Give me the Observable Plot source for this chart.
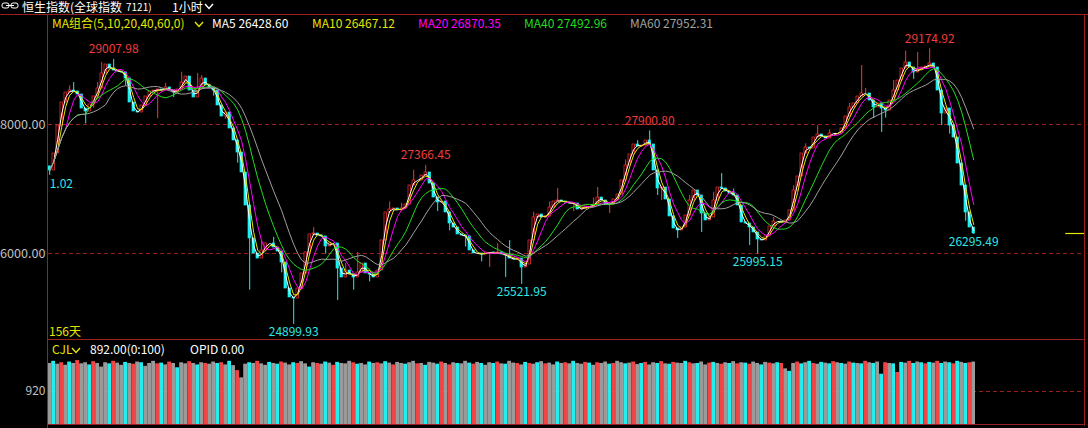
<!DOCTYPE html>
<html><head><meta charset="utf-8">
<script src="https://cdn.jsdelivr.net/npm/d3@7"></script>
<script src="https://cdn.jsdelivr.net/npm/@observablehq/plot@0.6"></script>
<style>
html,body{margin:0;padding:0;background:#000;width:1088px;height:428px;overflow:hidden;font-family:"Noto Sans CJK SC","Noto Sans",sans-serif;}
#wrap{position:relative;width:1088px;height:428px;background:#000;}
.t{position:absolute;white-space:nowrap;font-size:12px;line-height:14px;}
.ln{position:absolute;background:#9a1f1f;}
#price{position:absolute;left:0;top:15px;}
#vol{position:absolute;left:0;top:340px;}
svg.chev{position:absolute;}
</style></head><body>
<div id="wrap">
  <div id="price"></div>
  <div id="vol"></div>
</div>
<script>
// ---------- DATA ----------
const titleMain = "恒生指数(全球指数";
const titleCode = "7121)";
const titlePeriod = "1小时";
const maGroupLabel = "MA组合(5,10,20,40,60,0)";
const maNames = ["MA5", "MA10", "MA20", "MA40", "MA60"];
const maLegendValues = [26428.60, 26467.12, 26870.35, 27492.96, 27952.31];
const maColors = ["#ffffff", "#e6e600", "#ff00ff", "#22dd22", "#a0a0a0"];
const maK = [2, 3, 5, 10, 15]; // window length in plotted bars
const daysLabel = "156天";
const volHeader = ["CJL", "892.00(0:100)", "OPID 0.00"];

const gridPrices = [26000, 28000];
const volTicks = [920];

const firstOpen = 27350;
const closes = [
27287,27550,27984,28341,28496,28527,28512,28465,28248,28202,
28310,28434,28558,28791,28930,28868,28837,28822,28806,28713,
28341,28202,28186,28295,28434,28512,28527,28543,28527,28574,
28527,28496,28543,28651,28744,28527,28419,28558,28713,28605,
28558,28527,28295,28124,28186,27938,27752,27566,27256,26744,
26233,26000,25922,26047,26155,26155,26093,26031,25860,25457,
25318,25302,25457,25690,26016,26295,26310,26279,26264,26109,
26155,26155,25767,25628,25736,25674,25628,25705,25845,25690,
25674,25628,25736,26202,26636,26682,26698,26667,26698,26760,
27054,27132,27132,27209,27256,27085,26868,26791,26806,26636,
26465,26403,26295,26279,26264,26047,26000,26000,25984,26016,
26016,26000,26016,25984,25969,25922,25907,25922,25783,25829,
26202,26558,26605,26558,26574,26713,26806,26822,26806,26791,
26775,26775,26682,26698,26729,26729,26760,26868,26822,26760,
26760,26837,26915,27132,27364,27535,27690,27659,27674,27752,
27690,27287,27008,27023,26837,26574,26388,26357,26403,26589,
26822,26977,26899,26620,26512,26558,26822,27023,27008,26961,
26930,26899,26744,26481,26465,26403,26326,26217,26202,26264,
26419,26496,26496,26481,26512,26667,26977,27194,27550,27643,
27628,27798,27845,27814,27783,27860,27860,27860,27938,28124,
28264,28326,28434,28481,28481,28372,28264,28326,28248,28217,
28372,28527,28682,28868,28961,28884,28806,28853,28884,28899,
28946,28884,28527,28171,28248,27984,27798,27395,27054,26636,
26403,26310
];
// [bar index, high, low] read from visible wicks
const wicks = [
[0,null,27211.02],[2,null,27700],[5,28600,null],[6,28650,null],[9,null,28010],
[11,null,28250],[12,28650,null],[13,28960,null],[16,29007.98,null],[19,null,28600],
[24,null,28300],[27,null,28090],[29,28640,null],[31,null,28420],[33,28810,null],
[37,28790,null],[38,28760,null],[41,null,28440],[44,null,28080],[47,null,27400],
[50,null,25430],[53,26200,null],[56,26250,null],[58,null,25700],[61,null,24899.93],
[66,26400,null],[69,null,25990],[72,null,25270],[74,25850,null],[76,null,25430],
[77,26016,null],[80,null,25560],[85,26800,null],[88,26780,null],[91,27290,null],
[94,27366.45,null],[97,null,26650],[100,null,26350],[104,null,26100],[108,null,25870],
[110,null,25783],[112,26150,null],[114,null,25628],[115,26200,null],[118,null,25521.95],
[121,26640,null],[125,26800,null],[127,27008,null],[131,null,26650],[136,26860,null],
[137,27023,null],[140,null,26620],[144,27450,null],[147,27750,null],[150,27900.80,null],
[152,null,26900],[153,null,26822],[157,null,26233],[160,26900,null],[163,null,26326],
[166,26950,null],[168,27240,null],[171,27000,null],[175,null,26124],[177,null,25995.15],
[181,26560,null],[186,27050,null],[189,27700,null],[192,27984,null],[195,27920,null],
[200,28330,null],[203,28915,null],[204,28560,null],[206,null,28093],[208,null,27876],
[209,null,28100],[211,28682,null],[214,29140,null],[216,null,28700],[217,29116,null],
[220,29174.92,null],[223,null,27984],[225,null,27850],[227,27500,null],[229,null,26500],
[231,null,26295.49]
];
const hiLabels = [[16,29007.98],[94,27366.45],[150,27900.80],[220,29174.92]];
const loLabels = [[61,24899.93],[118,25521.95],[177,25995.15],[231,26295.49]];

const volumes = [
1700,1760,1680,1720,1650,1740,1700,1780,1690,1720,
1660,1750,1700,1600,1720,1690,1760,1710,1650,1730,
1700,1680,1740,1720,1620,1700,1760,1690,1710,1660,
1740,1700,1580,1720,1690,1750,1700,1660,1720,1700,
1680,1740,1700,1720,1660,1760,1640,1500,1300,1680,
1720,1700,1760,1690,1650,1730,1700,1680,1740,1710,
1660,1720,1700,1750,1690,1600,1720,1700,1680,1740,
1710,1650,1730,1700,1690,1760,1720,1680,1700,1660,
1740,1700,1720,1690,1750,1710,1660,1730,1700,1680,
1720,1760,1690,1700,1650,1730,1710,1680,1740,1700,
1660,1720,1700,1690,1760,1710,1680,1730,1700,1650,
1720,1700,1740,1690,1680,1760,1710,1700,1660,1730,
1700,1680,1720,1750,1690,1710,1660,1740,1700,1720,
1690,1760,1700,1680,1730,1710,1650,1720,1700,1740,
1680,1700,1760,1720,1690,1710,1740,1670,1700,1730,
1660,1720,1700,1750,1690,1680,1730,1710,1700,1760,
1720,1690,1700,1740,1660,1710,1730,1700,1680,1720,
1700,1750,1690,1720,1710,1680,1740,1700,1660,1730,
1710,1690,1720,1700,1550,1480,1700,1740,1690,1720,
1760,1700,1680,1730,1710,1690,1750,1720,1700,1680,
1740,1710,1700,1690,1760,1720,1700,1740,1400,1720,
1700,1690,1450,1730,1710,1760,1700,1740,1720,1690,
1730,1710,1760,1700,1740,1720,1690,1760,1730,1700,
1720,1740
];
const volColorCodes =
"gcgrgcgrgg"+"crgggcrggc"+"grgcgggrcg"+"rgcggrgcgr"+"ggcrgcgrgg"+
"cgrggcgcrg"+"gcrggcgrgc"+"grcgggrcgg"+"cgrgcgrggc"+"ggrgcggcrg"+
"rgcggcrgcg"+"gcrgcggrgc"+"rgcgrggcgr"+"gcggrcgrgg"+"crggcgrgcr"+
"ggcrgcrggc"+"rgcggrcgrg"+"cgrgcrggcg"+"rgcrgcgrcg"+"crgcgcrgcg"+
"rcgcrgcgcr"+"gcrcgrcgcr"+"cgrcgcrcgc"+"rg";

// ---------- STYLE ----------
const RED = "#ff3434", CYAN = "#1ef0f0", GRID = "#9a1f1f";
const LBL_RED = "#f03c3c", LBL_CYAN = "#2ee6e6", AXIS = "#c0c0c0", YEL = "#e6e600";
const volPalette = {r: "#f24444", c: "#22eeee", g: "#9a9a9a"};
const FONT = "'Noto Sans CJK SC','Noto Sans',sans-serif";
const xDomain = [-0.3, 258.7];

// ---------- BUILD ----------
const bars = closes.map((c, i) => {
  const o = i === 0 ? firstOpen : closes[i - 1];
  return {i, open: o, close: c, high: Math.max(o, c), low: Math.min(o, c), up: c >= o};
});
for (const [i, h, l] of wicks) {
  if (h != null) bars[i].high = Math.max(bars[i].high, h);
  if (l != null) bars[i].low = Math.min(bars[i].low, l);
}
const fmt = d3.format(".2f");
const hiData = hiLabels.map(([i, v]) => ({i, v}));
const loData = loLabels.map(([i, v]) => ({i, v}));
const lastClose = closes[closes.length - 1];

const maMarks = maK.map((k, j) =>
  Plot.lineY(bars, Plot.windowY({k, anchor: "end", reduce: "mean"},
    {x: "i", y: "close", stroke: maColors[j], strokeWidth: 1}))
);

const price = Plot.plot({
  width: 1088, height: 325,
  marginLeft: 48, marginRight: 4, marginTop: 0, marginBottom: 0,
  x: {domain: xDomain, axis: null},
  y: {domain: [24651, 29690], axis: null},
  color: {type: "identity"},
  style: {background: "transparent", fontFamily: FONT, fontSize: "12px", overflow: "visible"},
  marks: [
    Plot.ruleY(gridPrices, {stroke: GRID, strokeDasharray: "4,3"}),
    Plot.text(gridPrices, {y: d => d, frameAnchor: "left", textAnchor: "end", dx: -3,
      text: d => fmt(d), fill: AXIS, fontSize: 12.6}),
    Plot.ruleX(bars, {x: "i", y1: "low", y2: "high", stroke: d => d.up ? RED : CYAN, strokeWidth: 1}),
    Plot.rect(bars, {x1: d => d.i - 0.3, x2: d => d.i + 0.3, y1: "open", y2: "close",
      fill: d => d.up ? "#000000" : CYAN, stroke: d => d.up ? RED : CYAN, strokeWidth: 0.7}),
    ...maMarks,
    Plot.ruleY([lastClose], {x1: 254, x2: 258.7, stroke: YEL, strokeWidth: 1.2}),
    Plot.text(hiData, {x: "i", y: "v", text: d => fmt(d.v), dy: -10, fill: LBL_RED, fontSize: 12}),
    Plot.text(loData, {x: "i", y: "v", text: d => fmt(d.v), dy: 8, fill: LBL_CYAN, fontSize: 12}),
    Plot.text([bars[0]], {x: "i", y: "low", text: d => fmt(d.low).slice(-4), textAnchor: "start",
      dy: 9, fill: LBL_CYAN, fontSize: 12})
  ]
});
document.getElementById("price").appendChild(price);

const volData = volumes.map((v, i) => ({i, v, c: volPalette[volColorCodes[i]]}));
const vol = Plot.plot({
  width: 1088, height: 88,
  marginLeft: 48, marginRight: 4, marginTop: 0, marginBottom: 4,
  x: {domain: xDomain, axis: null},
  y: {domain: [0, 2340], axis: null},
  color: {type: "identity"},
  style: {background: "transparent", fontFamily: FONT, fontSize: "12px", overflow: "visible"},
  marks: [
    Plot.ruleY(volTicks, {stroke: GRID, strokeDasharray: "4,3"}),
    Plot.rect(volData, {x1: d => d.i - 0.5, x2: d => d.i + 0.45, y1: 0, y2: "v", fill: "c"}),
    Plot.text(volTicks, {y: d => d, frameAnchor: "left", textAnchor: "end", dx: -3,
      text: d => String(d), fill: AXIS, fontSize: 12})
  ]
});
document.getElementById("vol").appendChild(vol);

// ---------- HTML overlays (header, legend, frame lines) ----------
const wrap = document.getElementById("wrap");
function txt(s, left, top, color, size) {
  const d = document.createElement("div");
  d.className = "t"; d.textContent = s;
  d.style.left = left + "px"; d.style.top = top + "px"; d.style.color = color;
  if (size) d.style.fontSize = size + "px";
  wrap.appendChild(d); return d;
}
function chev(left, top, color) {
  const ns = "http://www.w3.org/2000/svg";
  const s = document.createElementNS(ns, "svg");
  s.setAttribute("class", "chev"); s.setAttribute("width", 10); s.setAttribute("height", 7);
  s.style.left = left + "px"; s.style.top = top + "px";
  const p = document.createElementNS(ns, "polyline");
  p.setAttribute("points", "1,1 5,5.5 9,1"); p.setAttribute("fill", "none");
  p.setAttribute("stroke", color); p.setAttribute("stroke-width", "1.4");
  s.appendChild(p); wrap.appendChild(s);
}
function line(left, top, w, h) {
  const d = document.createElement("div");
  d.className = "ln"; d.style.left = left + "px"; d.style.top = top + "px";
  d.style.width = w + "px"; d.style.height = h + "px"; wrap.appendChild(d);
}
// icon
(function () {
  const ns = "http://www.w3.org/2000/svg";
  const s = document.createElementNS(ns, "svg");
  s.setAttribute("width", 18); s.setAttribute("height", 10);
  s.style.position = "absolute"; s.style.left = "1px"; s.style.top = "1px";
  s.innerHTML = '<rect x="1" y="2" width="7" height="5" rx="2" fill="none" stroke="#fff" stroke-width="1"/>' +
    '<rect x="10" y="2" width="7" height="5" rx="2" fill="none" stroke="#fff" stroke-width="1"/>' +
    '<line x1="5" y1="4.5" x2="13" y2="4.5" stroke="#fff" stroke-width="1"/>';
  wrap.appendChild(s);
})();
const t1 = txt(titleMain, 22, 0, "#ffffff", 12); t1.style.lineHeight = "13px";
const t2 = txt(titleCode, 126, 0, "#ffffff", 10); t2.style.lineHeight = "13px";
const t3 = txt(titlePeriod, 172, 0, "#ffffff", 12); t3.style.lineHeight = "13px";
chev(204, 3, "#ffffff");

txt(maGroupLabel, 52, 16, YEL);
chev(194, 21, YEL);
const maLeft = [212, 312, 418, 524, 630];
maNames.forEach((n, j) => txt(n + " " + fmt(maLegendValues[j]), maLeft[j], 16, maColors[j]));

txt(daysLabel, 49, 324, YEL);
txt(volHeader[0], 52, 342, YEL);
chev(71, 347, YEL);
txt(volHeader[1], 90, 342, "#ffffff");
txt(volHeader[2], 190, 342, "#ffffff");

line(0, 14, 1088, 1);
line(47, 15, 1, 413);
line(1084, 15, 1, 411);
line(48, 339, 1036, 1);
line(48, 424, 1036, 1);
</script>
</body></html>
